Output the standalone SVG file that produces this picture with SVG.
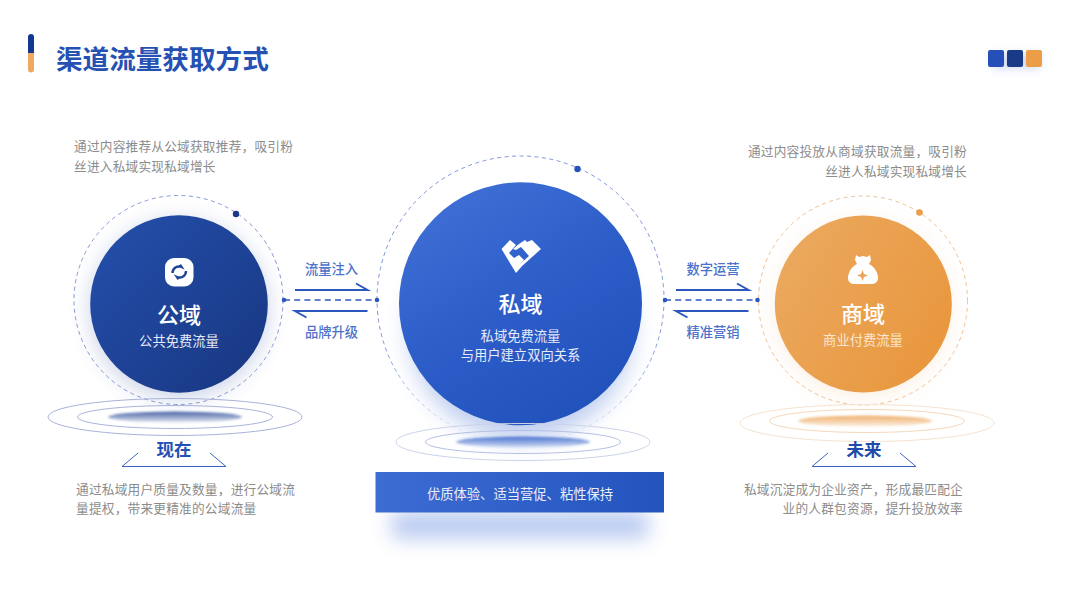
<svg xmlns="http://www.w3.org/2000/svg" width="1080" height="608" viewBox="0 0 1080 608">
<defs>
<linearGradient id="gL" x1="0" y1="0" x2="1" y2="1"><stop offset="0" stop-color="#2450ad"/><stop offset="1" stop-color="#183680"/></linearGradient>
<linearGradient id="gC" x1="0.15" y1="0.05" x2="0.7" y2="0.95"><stop offset="0" stop-color="#3f6fd6"/><stop offset="0.6" stop-color="#2a5bc6"/><stop offset="1" stop-color="#2253bd"/></linearGradient>
<linearGradient id="gR" x1="0" y1="0.2" x2="1" y2="0.8"><stop offset="0" stop-color="#eba95f"/><stop offset="1" stop-color="#e9963c"/></linearGradient>
<linearGradient id="gB" x1="0" y1="0" x2="1" y2="0"><stop offset="0" stop-color="#3d6cd3"/><stop offset="1" stop-color="#2354be"/></linearGradient>
<linearGradient id="bar" x1="0" y1="0" x2="0" y2="1"><stop offset="0.5" stop-color="#12378f"/><stop offset="0.5" stop-color="#eeaa63"/></linearGradient>
<linearGradient id="dL" x1="0" y1="0" x2="0" y2="1"><stop offset="0" stop-color="#1d3f92" stop-opacity="0.8"/><stop offset="1" stop-color="#1d3f92" stop-opacity="0.12"/></linearGradient>
<linearGradient id="dC" x1="0" y1="0" x2="0" y2="1"><stop offset="0" stop-color="#2a5bc6" stop-opacity="0.8"/><stop offset="1" stop-color="#2a5bc6" stop-opacity="0.15"/></linearGradient>
<linearGradient id="dR" x1="0" y1="0" x2="0" y2="1"><stop offset="0" stop-color="#e9963c" stop-opacity="0.75"/><stop offset="1" stop-color="#e9963c" stop-opacity="0.15"/></linearGradient>
<linearGradient id="ringC" x1="0" y1="0" x2="0" y2="1"><stop offset="0" stop-color="#7f95d8"/><stop offset="0.68" stop-color="#7f95d8"/><stop offset="1" stop-color="#7f95d8" stop-opacity="0.05"/></linearGradient>
<filter id="s" x="-40%" y="-40%" width="180%" height="180%"><feGaussianBlur stdDeviation="11"/></filter>
<filter id="s2" x="-30%" y="-100%" width="160%" height="300%"><feGaussianBlur stdDeviation="10"/></filter>
<filter id="s3" x="-50%" y="-100%" width="200%" height="300%"><feGaussianBlur stdDeviation="5"/></filter>
<filter id="sd" x="-20%" y="-100%" width="140%" height="300%"><feGaussianBlur stdDeviation="1.2"/></filter>
</defs>
<style>
text{font-family:"Noto Sans CJK SC","Noto Sans",sans-serif}
.d{font-size:12.7px;fill:#8c8c8c;letter-spacing:.2px}
.h{font-size:22px;fill:#fff;font-weight:500;text-anchor:middle}
.sub{font-size:13.3px;fill:#e6ebf8;text-anchor:middle}
.lab{font-size:13.3px;fill:#4c72c9;text-anchor:middle;font-weight:500}
.tag{font-size:17.5px;font-weight:700;text-anchor:middle}
.w{fill:#fff}
.r1{fill:none;stroke-width:1}
.dash{fill:none;stroke-width:1;stroke-dasharray:4 3.5}
.ln{fill:none;stroke:#2c58bd;stroke-width:2}
.cd{fill:none;stroke:#2c58bd;stroke-width:1.6;stroke-dasharray:6 4.2}
</style>

<g id="title">
<rect x="28" y="34" width="6" height="38.500" rx="3" fill="url(#bar)"/>
<text x="56" y="69" font-size="26.600" font-weight="700" fill="#2451b3" style="font-size:26.600px">渠道流量获取方式</text>
</g>
<g id="corner-squares">
<rect x="992" y="54" width="48" height="14" fill="#5b7fd8" opacity=".3" filter="url(#s3)"/>
<rect x="988" y="50" width="16" height="17" rx="2" fill="#2450b8"/>
<rect x="1007" y="50" width="16" height="17" rx="2" fill="#193a86"/>
<rect x="1026" y="50" width="16" height="17" rx="2" fill="#ec9d48"/>
</g>

<g id="node-public">
<text class="d" x="74" y="151">通过内容推荐从公域获取推荐，吸引粉</text>
<text class="d" x="74" y="171">丝进入私域实现私域增长</text>
<circle cx="179" cy="309" r="88" fill="#3f5ea8" opacity=".3" filter="url(#s)"/>
<circle cx="178.500" cy="300" r="104.500" class="dash" stroke="#8797d4"/>
<circle cx="236" cy="214" r="3.200" fill="#1a3a87"/>
<circle cx="179" cy="304" r="88.800" fill="url(#gL)"/>
<rect x="165" y="258" width="28.500" height="28.500" rx="9" class="w"/>
<path d="M172.500 273a6.500 6.500 0 0 1 9-6l-1.500-2.200M186 271a6.500 6.500 0 0 1-9 6l1.500 2.200" fill="none" stroke="#1f4397" stroke-width="2.400"/>
<text class="h" x="179" y="323">公域</text>
<text class="sub" x="179" y="346">公共免费流量</text>
<ellipse cx="175" cy="417" rx="127" ry="18.500" class="r1" stroke="#a9b2da"/>
<ellipse cx="175" cy="417" rx="97.500" ry="11.500" class="r1" stroke="#aab3da"/>
<ellipse cx="175" cy="417" rx="67" ry="5.500" fill="url(#dL)" filter="url(#sd)"/>
<text class="tag" x="174" y="456" fill="#2451b3">现在</text>
<path d="M122 466.500H226M122 466.500L138 453M226 466.500L210 453" fill="none" stroke="#3d63c4" stroke-width="1"/>
<text class="d" x="76" y="494">通过私域用户质量及数量，进行公域流</text>
<text class="d" x="76" y="513">量提权，带来更精准的公域流量</text>
</g>

<g id="node-private">
<ellipse cx="521" cy="330" rx="112" ry="110" fill="#3f6dd0" opacity=".33" filter="url(#s)"/>
<circle cx="520.500" cy="299.500" r="143.500" class="dash" stroke="url(#ringC)"/>
<circle cx="577.500" cy="169" r="3.200" fill="#2552bb"/>
<circle cx="520.500" cy="303.800" r="121.500" fill="url(#gC)"/>
<path d="M501.500 249l8.500-9 6 5-7 8 5 5 5-3 5 5-4 4 3 1-7 8ZM519 244l6-4 2 2 5-2 9 9-20 18 -2-2 10-9-8-9-5 3-3-1Z" class="w"/>
<text class="h" x="520.500" y="312">私域</text>
<text class="sub" x="520.500" y="341">私域免费流量</text>
<text class="sub" x="520.500" y="360">与用户建立双向关系</text>
<ellipse cx="523" cy="442" rx="127" ry="18.500" class="r1" stroke="#ccd3ea"/>
<ellipse cx="523" cy="442" rx="97.500" ry="11.500" class="r1" stroke="#b6c0e4"/>
<ellipse cx="523" cy="442" rx="67" ry="5.500" fill="url(#dC)" filter="url(#sd)"/>
<rect x="392" y="512" width="256" height="26" fill="#5f86df" opacity=".45" filter="url(#s2)"/>
<rect x="375.500" y="472" width="288.500" height="40.500" fill="url(#gB)"/>
<text x="520" y="499" font-size="13.300" fill="#e9eefa" text-anchor="middle" style="font-size:13.300px">优质体验、适当营促、粘性保持</text>
</g>

<g id="node-commercial">
<text class="d" x="967" y="156" text-anchor="end">通过内容投放从商域获取流量，吸引粉</text>
<text class="d" x="967" y="176" text-anchor="end">丝进人私域实现私域增长</text>
<circle cx="863" cy="309" r="86" fill="#eeb070" opacity=".24" filter="url(#s)"/>
<circle cx="863" cy="300.500" r="104.500" class="dash" stroke="#efc193"/>
<circle cx="919.500" cy="212.500" r="3.300" fill="#ec9d48"/>
<circle cx="863.300" cy="304" r="88.500" fill="url(#gR)"/>
<path d="M856 255l3 2 4-1 4 1 3-2 1 5-2 4c6 3 9 9 9 14 0 4-3 6-7 6h-16c-4 0-7-2-7-6 0-5 3-11 9-14l-2-4Z" class="w"/>
<path d="M862.500 270l1.500 4 4 1.500-4 1.500-1.500 4-1.500-4-4-1.500 4-1.500Z" fill="#eba557"/>
<text class="h" x="863" y="322">商域</text>
<text class="sub" x="863" y="345" style="fill:#fbe6cf">商业付费流量</text>
<ellipse cx="867" cy="423" rx="127" ry="18.500" class="r1" stroke="#f7e3d0"/>
<ellipse cx="867" cy="421" rx="97.500" ry="11.500" class="r1" stroke="#f5d9bd"/>
<ellipse cx="865" cy="421" rx="67" ry="5.500" fill="url(#dR)" filter="url(#sd)"/>
<text class="tag" x="864" y="456" fill="#1e4aa8">未来</text>
<path d="M812 466.500H916M812 466.500L828 453M916 466.500L900 453" fill="none" stroke="#3d63c4" stroke-width="1"/>
<text class="d" x="963" y="494" text-anchor="end">私域沉淀成为企业资产，形成最匹配企</text>
<text class="d" x="963" y="513" text-anchor="end">业的人群包资源，提升投放效率</text>
</g>

<g id="connectors">
<path class="ln" d="M295 290H367.500L356 283.500"/>
<path class="ln" d="M367.500 311H295L306.500 317.500"/>
<path class="cd" d="M284 300H377"/>
<circle cx="284" cy="300" r="2.300" fill="#2c58bd"/>
<circle cx="377" cy="300" r="2.300" fill="#2c58bd"/>
<path class="ln" d="M676 290H748.500L737 283.500"/>
<path class="ln" d="M748.500 311H676L687.500 317.500"/>
<path class="cd" d="M665 300H757.500"/>
<circle cx="665" cy="300" r="2.300" fill="#2c58bd"/>
<circle cx="757.500" cy="300" r="2.300" fill="#2c58bd"/>
<text class="lab" x="331.500" y="274">流量注入</text>
<text class="lab" x="331.500" y="337">品牌升级</text>
<text class="lab" x="713" y="274">数字运营</text>
<text class="lab" x="713" y="337">精准营销</text>
</g>
</svg>
